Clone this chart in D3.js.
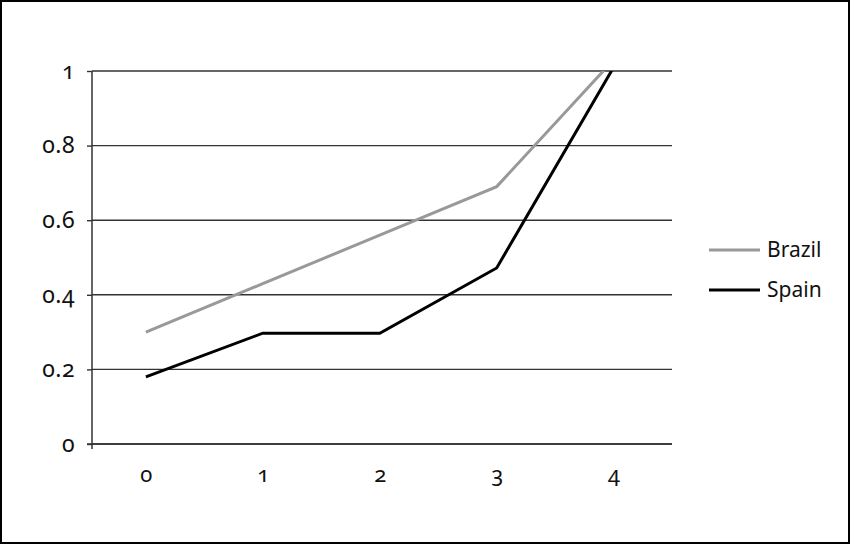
<!DOCTYPE html>
<html>
<head>
<meta charset="utf-8">
<script src="https://cdn.jsdelivr.net/npm/d3@7"></script>
<style>
  body { margin: 0; background: #fff; }
  svg text { font-family: "Noto Sans", "Open Sans", sans-serif; font-variant-numeric: oldstyle-nums; font-feature-settings: "onum"; }
</style>
</head>
<body>
<div id="chart"></div>
<script>
// Chart size
const width = 850;
const height = 544;
const margin = {top: 71, right: 178, bottom: 100, left: 92};

// Data
const categories = ["0", "1", "2", "3", "4"];
const brazil = [0.30, 0.43, 0.56, 0.69, 1.03];
const spain = [0.18, 0.297, 0.297, 0.472, 1.01];
const yTicks = [0, 0.2, 0.4, 0.6, 0.8, 1];

const seriesList = [
  {name: "Brazil", values: brazil, color: "#999999"},
  {name: "Spain", values: spain, color: "#000000"}
];

let svg = d3.select("#chart").append("svg")
            .attr("width", width)
            .attr("height", height)

// outer frame
svg.append("rect")
   .attr("x", 1).attr("y", 1)
   .attr("width", width - 2).attr("height", height - 2)
   .style("fill", "none")
   .style("stroke", "#000")
   .style("stroke-width", 2)

let x = d3.scalePoint()
          .domain(categories)
          .range([margin.left, width - margin.right])
          .padding(0.48)
          .align(0.48)

let y = d3.scaleLinear()
          .domain([0, 1])
          .range([height - margin.bottom, margin.top])

// horizontal gridlines
svg.append("g")
   .selectAll("line")
   .data(yTicks)
   .enter()
   .append("line")
   .attr("x1", margin.left)
   .attr("x2", width - margin.right)
   .attr("y1", function(d) {return y(d)})
   .attr("y2", function(d) {return y(d)})
   .style("stroke", "#333")
   .style("stroke-width", 1.4)

// y axis
let yAxis = svg.append("g")
               .attr("transform", "translate(" + margin.left + ",0)")
               .call(d3.axisLeft(y).tickValues(yTicks).tickSize(5).tickPadding(12)
                       .tickFormat(function(d) {return d === 0 || d === 1 ? String(d) : d3.format(".1f")(d)}))
yAxis.select(".domain").attr("d", "M0," + margin.top + "V" + (height - margin.bottom + 5)).style("stroke", "#333").style("stroke-width", 1.5)
yAxis.selectAll(".tick line").style("stroke", "#333").style("stroke-width", 1.4)
yAxis.selectAll("text").style("font-size", "23px").style("letter-spacing", "0.5px").style("fill", "#111")

// x axis (labels only, no ticks)
let xAxis = svg.append("g")
               .attr("transform", "translate(0," + (height - margin.bottom) + ")")
               .call(d3.axisBottom(x).tickSize(0).tickPadding(22))
xAxis.select(".domain").attr("d", "M" + (margin.left - 5) + ",0H" + (width - margin.right)).style("stroke", "#333").style("stroke-width", 1.5)
xAxis.selectAll("text").style("font-size", "22px").style("fill", "#111")

// clip lines to plot area
svg.append("clipPath").attr("id", "plot-clip")
   .append("rect")
   .attr("x", margin.left).attr("y", margin.top)
   .attr("width", width - margin.left - margin.right)
   .attr("height", height - margin.top - margin.bottom)

let line = d3.line()
             .x(function(d, i) {return x(categories[i])})
             .y(function(d) {return y(d)})

svg.append("g")
   .attr("clip-path", "url(#plot-clip)")
   .selectAll("path")
   .data(seriesList)
   .enter()
   .append("path")
   .attr("d", function(d) {return line(d.values)})
   .style("fill", "none")
   .style("stroke", function(d) {return d.color})
   .style("stroke-width", 3)

// legend
let legend = svg.append("g")
                .selectAll("g")
                .data(seriesList)
                .enter()
                .append("g")
                .attr("transform", function(d, i) {return "translate(709," + (250 + i * 40) + ")"})

legend.append("line")
      .attr("x1", 0).attr("x2", 51)
      .style("stroke", function(d) {return d.color})
      .style("stroke-width", 3)

legend.append("text")
      .attr("x", 58)
      .attr("dy", "0.35em")
      .style("font-size", "21px")
      .style("fill", "#111")
      .text(function(d) {return d.name})
</script>
</body>
</html>
